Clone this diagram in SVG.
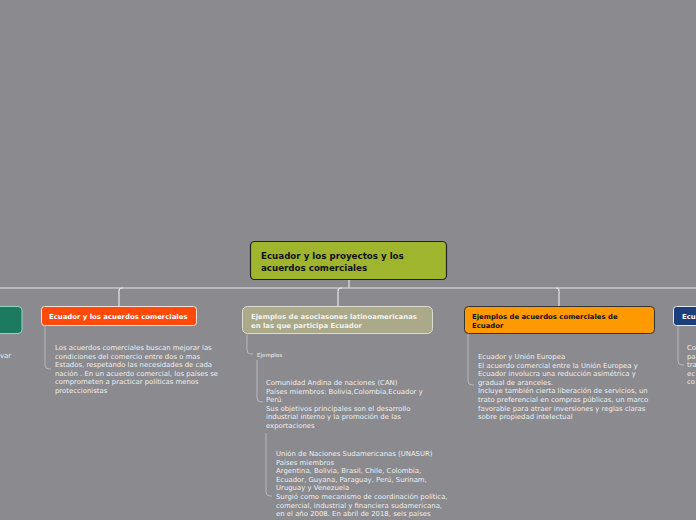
<svg xmlns="http://www.w3.org/2000/svg" width="696" height="520" viewBox="0 0 696 520">
<style>
.ln{fill:none;stroke:#e6e6e6;stroke-width:1.2}
.sub{fill:none;stroke:#b8b8bc;stroke-width:1}
text{font-family:"DejaVu Sans","Verdana",sans-serif}
.t{font-size:6.9px;fill:#f0f0f0}
.hb{font-weight:bold;font-size:6.9px}
</style>
<rect x="0" y="0" width="696" height="520" fill="#8a8a8f"/>
<g id="connectors">
<path class="ln" d="M349 280V288M0 288H696"/>
<path class="ln" d="M123 288H122Q119 288 119 291V306"/>
<path class="ln" d="M342 288H341Q338 288 338 291V306"/>
<path class="ln" d="M556 288Q559 288 559 291V306"/>
<path class="sub" d="M45 326V365Q45 369 49 369H51"/>
<path class="sub" d="M247 334V350Q247 354 251 354H253"/>
<path class="sub" d="M257 360V398Q257 402 261 402H263"/>
<path class="sub" d="M266 433V492Q266 496 270 496H272"/>
<path class="sub" d="M468 334V381Q468 385 472 385H474"/>
<path class="sub" d="M678 326V361Q678 365 682 365H684"/>
</g>
<g id="central">
<rect x="250.5" y="241.5" width="196" height="38" rx="4" fill="#9fb52d" stroke="#222" stroke-width="1.2"/>
<text x="261" y="259" font-size="8.7" font-weight="bold" fill="#111">Ecuador y los proyectos y los</text>
<text x="261" y="270.5" font-size="8.7" font-weight="bold" fill="#111">acuerdos comerciales</text>
</g>
<g id="left-node">
<rect x="-10" y="306.5" width="32" height="27" rx="4" fill="#1b7a5f" stroke="#8fd9c0" stroke-width="1"/>
<text class="t" x="0" y="358">var</text>
</g>
<g id="acuerdos">
<rect x="41.5" y="306.5" width="155" height="19" rx="3" fill="#ff4a0c" stroke="#f3e0d8" stroke-width="1"/>
<text class="hb" x="49" y="319" fill="#fff">Ecuador y los acuerdos comerciales</text>
<text class="t" x="55" y="350">Los acuerdos comerciales buscan mejorar las</text>
<text class="t" x="55" y="358.6">condiciones del comercio entre dos o mas</text>
<text class="t" x="55" y="367.2">Estados, respetando las necesidades de cada</text>
<text class="t" x="55" y="375.8">nación . En un acuerdo comercial, los países se</text>
<text class="t" x="55" y="384.4">comprometen a practicar políticas menos</text>
<text class="t" x="55" y="393">proteccionistas</text>
</g>
<g id="asociaciones">
<rect x="242.5" y="306.5" width="190" height="27" rx="5" fill="#aaa98a" stroke="#dcdcd0" stroke-width="1"/>
<text class="hb" x="251" y="318.5" fill="#f4f4ee">Ejemplos de asociasones latinoamericanas</text>
<text class="hb" x="251" y="327.5" fill="#f4f4ee">en las que participa Ecuador</text>
<text x="257" y="357" font-size="5.5" fill="#f0f0f0">Ejemplos</text>
<text class="t" x="266" y="385">Comunidad Andina de naciones (CAN)</text>
<text class="t" x="266" y="393.6">Países miembros: Bolivia,Colombia,Ecuador y</text>
<text class="t" x="266" y="402.2">Perú</text>
<text class="t" x="266" y="410.8">Sus objetivos principales son el desarrollo</text>
<text class="t" x="266" y="419.4">industrial interno y la promoción de las</text>
<text class="t" x="266" y="428">exportaciones</text>
<text class="t" x="276" y="456">Unión de Naciones Sudamericanas (UNASUR)</text>
<text class="t" x="276" y="464.6">Países miembros</text>
<text class="t" x="276" y="473.2">Argentina, Bolivia, Brasil, Chile, Colombia,</text>
<text class="t" x="276" y="481.8">Ecuador, Guyana, Paraguay, Perú, Surinam,</text>
<text class="t" x="276" y="490.4">Uruguay y Venezuela</text>
<text class="t" x="276" y="499">Surgió como mecanismo de coordinación política,</text>
<text class="t" x="276" y="507.6">comercial, industrial y financiera sudamericana,</text>
<text class="t" x="276" y="516.2">en el año 2008. En abril de 2018, seis países</text>
</g>
<g id="ejemplos-acuerdos">
<rect x="464.5" y="306.5" width="190" height="27" rx="4" fill="#ff9900" stroke="#333" stroke-width="1"/>
<text class="hb" x="472" y="318.5" fill="#111">Ejemplos de acuerdos comerciales de</text>
<text class="hb" x="472" y="327.5" fill="#111">Ecuador</text>
<text class="t" x="478" y="359">Ecuador y Unión Europea</text>
<text class="t" x="478" y="367.6">El acuerdo comercial entre la Unión Europea y</text>
<text class="t" x="478" y="376.2">Ecuador involucra una reducción asimétrica y</text>
<text class="t" x="478" y="384.8">gradual de aranceles.</text>
<text class="t" x="478" y="393.4">Incluye también cierta liberación de servicios, un</text>
<text class="t" x="478" y="402">trato preferencial en compras públicas, un marco</text>
<text class="t" x="478" y="410.6">favorable para atraer inversiones y reglas claras</text>
<text class="t" x="478" y="419.2">sobre propiedad intelectual</text>
</g>
<g id="right-node">
<rect x="673.5" y="306.5" width="40" height="19" rx="3" fill="#1c3f7c" stroke="#e8e8f0" stroke-width="1"/>
<text class="hb" x="682" y="319" fill="#fff">Ecu</text>
<text class="t" x="687" y="350">Co</text>
<text class="t" x="687" y="358.6">pa</text>
<text class="t" x="687" y="367.2">tra</text>
<text class="t" x="687" y="375.8">ec</text>
<text class="t" x="687" y="384.4">co</text>
</g>
</svg>
